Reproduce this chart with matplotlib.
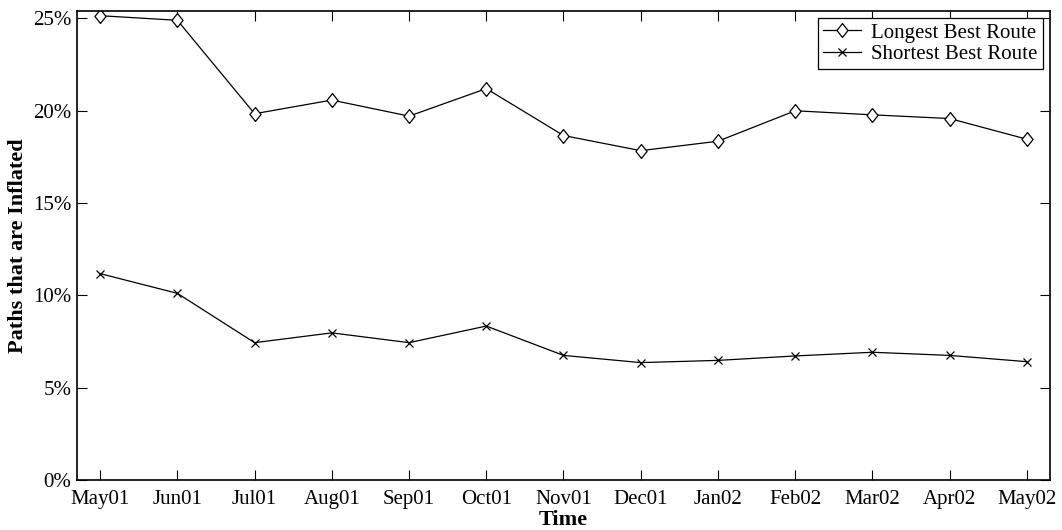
import matplotlib
matplotlib.use("Agg")
import matplotlib.pyplot as plt
from matplotlib.ticker import FuncFormatter

months = ["May01", "Jun01", "Jul01", "Aug01", "Sep01", "Oct01", "Nov01",
          "Dec01", "Jan02", "Feb02", "Mar02", "Apr02", "May02"]
longest = [25.15, 24.9, 19.84, 20.58, 19.71, 21.2, 18.66,
           17.84, 18.35, 20.0, 19.78, 19.58, 18.46]
shortest = [11.18, 10.11, 7.44, 7.97, 7.44, 8.34, 6.75,
            6.36, 6.48, 6.72, 6.92, 6.75, 6.41]

plt.rcParams["font.family"] = ["Liberation Serif", "DejaVu Serif"]
plt.rcParams["font.size"] = 15

# gnuplot-style diamond, a bit taller than wide
diamond = [(0, -1), (0.8, 0), (0, 1), (-0.8, 0), (0, -1)]

fig = plt.figure(figsize=(10.62, 5.30), dpi=100)
ax = fig.add_axes([0.0725, 0.0943, 0.9162, 0.8855])

x = list(range(len(months)))
ax.plot(x, longest, color="black", lw=0.9, marker=diamond, markersize=10,
        markerfacecolor="white", markeredgecolor="black", markeredgewidth=0.9,
        label="Longest Best Route")
ax.plot(x, shortest, color="black", lw=0.9, marker="x", markersize=5.5,
        markeredgewidth=0.9, label="Shortest Best Route")

ax.set_xlim(-0.3, 12.3)
ax.set_ylim(0, 25.42)
ax.set_xticks(x)
ax.set_xticklabels(months)
ax.set_yticks([0, 5, 10, 15, 20, 25])
ax.yaxis.set_major_formatter(FuncFormatter(lambda v, p: f"{v:.0f}%"))
ax.tick_params(direction="in", length=7, width=0.8, top=True, right=True,
               labelsize=15)
ax.tick_params(axis="x", pad=7)
ax.tick_params(axis="y", pad=4)
for s in ax.spines.values():
    s.set_linewidth(1.2)

ax.set_xlabel("Time", fontsize=16, fontweight="bold", labelpad=1)
ax.set_ylabel("Paths that are Inflated", fontsize=16, fontweight="bold", labelpad=4)

leg = ax.legend(loc="upper right", fontsize=15, frameon=True, fancybox=False,
                edgecolor="black", framealpha=1, borderaxespad=0.35,
                handlelength=1.8, borderpad=0.25, labelspacing=0.08, handletextpad=0.5)
leg.get_frame().set_linewidth(0.9)

fig.savefig("out.png", dpi=100)
